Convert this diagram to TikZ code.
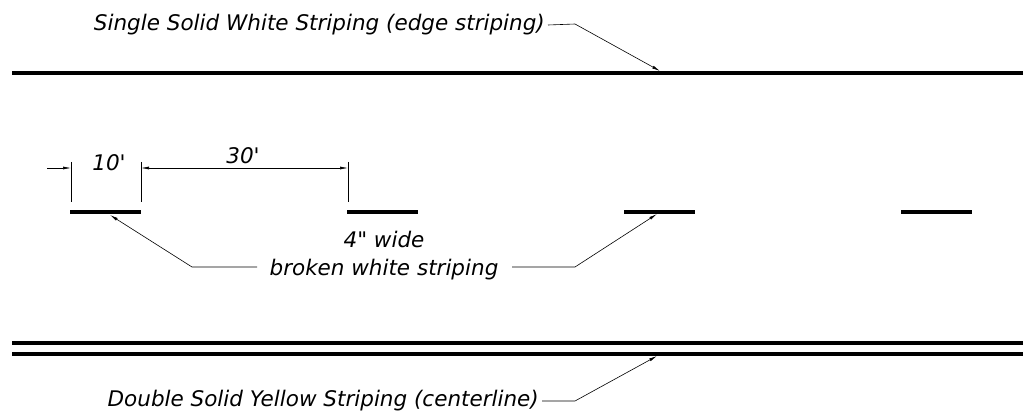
\documentclass[tikz,border=0pt]{standalone}
\usepackage{fontspec}
\newfontfamily\stripefont{DejaVu Sans}
\usepackage{tikz}
\usetikzlibrary{arrows.meta}

\tikzset{
	stripe/.style={line width=3.6pt},
	leader/.style={line width=0.6pt,-{Latex[length=8pt,width=3pt]}},
	dimline/.style={line width=0.6pt},
	note/.style={font=\stripefont\itshape\fontsize{21.5}{28}\selectfont,inner sep=0pt},
}

\begin{document}
\begin{tikzpicture}[x=1pt,y=-1pt]
	\useasboundingbox (0,0) rectangle (1023,414);
	% road striping
	\coordinate (E0) at (12,73);
	\coordinate (E1) at (1023,73);
	\coordinate (C0) at (12,343);
	\coordinate (C1) at (1023,343);
	\coordinate (D0) at (12,354);
	\coordinate (D1) at (1023,354);
	\draw [stripe] (E0) -- (E1);
	\draw [stripe] (C0) -- (C1);
	\draw [stripe] (D0) -- (D1);
	\foreach \x [count=\i] in {70,347,624,901} {
		\coordinate (S\i a) at (\x,212);
		\coordinate (S\i b) at (\x+71,212);
		\draw [stripe] (S\i a) -- (S\i b);
	}
	%
	\node[note,anchor=east] (edge) at (545,25) {Single Solid White Striping (edge striping)};
	\node[note,anchor=east] (center) at (539,401) {Double Solid Yellow Striping (centerline)};
	\node[note,align=center] (broken) at (384,256) {4" wide\\broken white striping};
	\node[note] (ten) at (109,163) {10'};
	\node[note] (thirty) at (243,156) {30'};
	%
	\coordinate (Etip) at (660,71);
	\coordinate (Ebend) at (575,24);
	\coordinate (Ctip) at (657,356);
	\coordinate (Cbend) at (575,401);
	\coordinate (Ltip) at (110,215);
	\coordinate (Lbend) at (192,267);
	\coordinate (Lend) at (257,267);
	\coordinate (Rtip) at (657,214);
	\coordinate (Rbend) at (575,267);
	\coordinate (Rend) at (512,267);
	\draw [leader] ([xshift=3pt]edge.east) -- (Ebend) -- (Etip);
	\draw [leader] ([xshift=3pt]center.east) -- (Cbend) -- (Ctip);
	\draw [leader] (Lend) -- (Lbend) -- (Ltip);
	\draw [leader] (Rend) -- (Rbend) -- (Rtip);
	% dimensions
	\coordinate (X1) at (71,162);
	\coordinate (X2) at (141,162);
	\coordinate (X3) at (348,162);
	\draw [dimline] (X1) -- ++(0,40);
	\draw [dimline] (X2) -- ++(0,40);
	\draw [dimline] (X3) -- ++(0,40);
	\coordinate (A0) at (47,168);
	\draw [leader] (A0) -- (X1 |- A0);
	\draw [dimline,{Latex[length=8pt,width=3pt]}-{Latex[length=8pt,width=3pt]}] (X2 |- A0) -- (X3 |- A0);
\end{tikzpicture}
\end{document}
